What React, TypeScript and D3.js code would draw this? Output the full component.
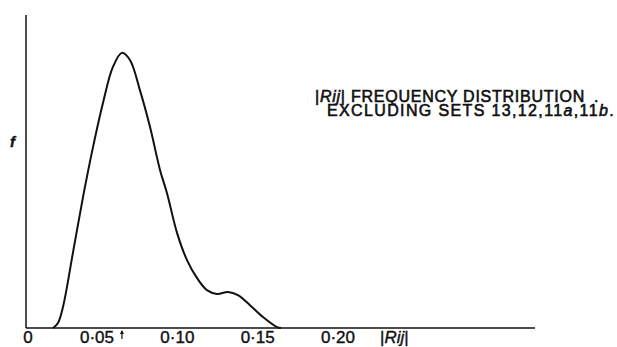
import React, { useEffect, useRef } from 'react';
import * as d3 from 'd3';

// |Rij| values along the curve and the frequency
const rijValues = [0.0226, 0.0257, 0.0288, 0.035, 0.0413, 0.0475, 0.0537, 0.0599, 0.0655, 0.0705, 0.0767, 0.083, 0.0892, 0.0936, 0.0998, 0.106, 0.1122, 0.1184, 0.1247, 0.1315, 0.1377, 0.1452, 0.1533, 0.162, 0.1645];
const freqValues = [0, 1.6, 6.7, 24, 41.9, 57.8, 71.9, 83.4, 87.9, 85.6, 76, 64.2, 50.5, 43, 30.4, 21.7, 16, 12.1, 10.9, 11.5, 10.5, 7.3, 3.5, 0.3, 0];
const xTicks = [0.05, 0.1, 0.15, 0.2];
const xTickLabels = ['0·05', '0·10', '0·15', '0·20'];
const peakMarker = 0.0655;

const App = () => {
  const ref = useRef<SVGSVGElement>(null);

  useEffect(() => {
    const svg = d3.select(ref.current);
    svg.selectAll('*').remove();

    const x = d3.scaleLinear().domain([0, 0.2]).range([16.7, 338]);
    const y = d3.scaleLinear().domain([0, 100]).range([328, 15]);
    const originX = 26;
    const axisEnd = 535;
    const font = '"Liberation Sans", Arial, sans-serif';
    const ink = '#111';

    // axes
    svg.append('line')
      .attr('x1', originX).attr('x2', originX)
      .attr('y1', y(100)).attr('y2', y(0))
      .attr('stroke', ink).attr('stroke-width', 1.5);
    svg.append('line')
      .attr('x1', originX).attr('x2', axisEnd)
      .attr('y1', y(0)).attr('y2', y(0))
      .attr('stroke', ink).attr('stroke-width', 1.5);

    // curve
    const pts = rijValues.map((r, i) => [r, freqValues[i]] as [number, number]);
    const line = d3.line<[number, number]>()
      .x(d => x(d[0]))
      .y(d => y(d[1]))
      .curve(d3.curveCatmullRom.alpha(0.5));
    svg.append('path')
      .attr('d', line(pts))
      .attr('fill', 'none')
      .attr('stroke', ink)
      .attr('stroke-width', 2);

    const label = (tx: number, ty: number, size: number) =>
      svg.append('text')
        .attr('x', tx).attr('y', ty)
        .attr('font-family', font).attr('font-size', size)
        .attr('fill', ink).attr('stroke', ink).attr('stroke-width', 0.4);

    // tick labels
    label(originX + 2, 343, 17).attr('text-anchor', 'middle').text('0');
    svg.selectAll('.xt')
      .data(xTicks)
      .enter().append('text')
      .attr('class', 'xt')
      .attr('x', d => x(d))
      .attr('y', 343)
      .attr('text-anchor', 'middle')
      .attr('font-family', font).attr('font-size', 17)
      .attr('fill', ink).attr('stroke', ink).attr('stroke-width', 0.4)
      .text((d, i) => xTickLabels[i]);

    // axis title |Rij|
    const xt = label(380, 343, 17);
    xt.append('tspan').text('|');
    xt.append('tspan').attr('font-style', 'italic').text('Rij');
    xt.append('tspan').text('|');

    // f label
    label(10, 147, 15)
      .attr('font-style', 'italic').attr('font-weight', 'bold')
      .text('f');

    // peak arrow
    const ax = x(peakMarker);
    svg.append('line')
      .attr('x1', ax).attr('x2', ax)
      .attr('y1', 331).attr('y2', 339)
      .attr('stroke', ink).attr('stroke-width', 1.2);
    svg.append('path')
      .attr('d', `M${ax - 2},${334} L${ax},${330} L${ax + 2},${334} Z`)
      .attr('fill', ink);

    // stretch a line of text to span a given width
    const fit = (t: d3.Selection<SVGTextElement, unknown, null, undefined>, width: number) => {
      const node = t.node();
      if (!node) return;
      const n = (node.textContent || '').length;
      const w = node.getComputedTextLength();
      t.attr('letter-spacing', (width - w) / n);
    };

    // annotation
    const t1 = label(315, 102, 16).attr('stroke-width', 0.6);
    t1.append('tspan').text('|');
    t1.append('tspan').attr('font-style', 'italic').text('Rij');
    t1.append('tspan').text('| FREQUENCY DISTRIBUTION');
    fit(t1, 270);
    label(594, 102, 16).attr('stroke-width', 0.6).text('.');

    const t2 = label(327, 116, 16).attr('stroke-width', 0.6);
    t2.append('tspan').text('EXCLUDING SETS 13,12,11');
    t2.append('tspan').attr('font-style', 'italic').text('a');
    t2.append('tspan').text(',11');
    t2.append('tspan').attr('font-style', 'italic').text('b');
    t2.append('tspan').text('.');
    fit(t2, 288);
  }, []);

  return (
    <svg
      ref={ref}
      width={617}
      height={347}
      style={{ position: 'absolute', left: 0, top: 0, background: '#fff' }}
    />
  );
};

export default App;
